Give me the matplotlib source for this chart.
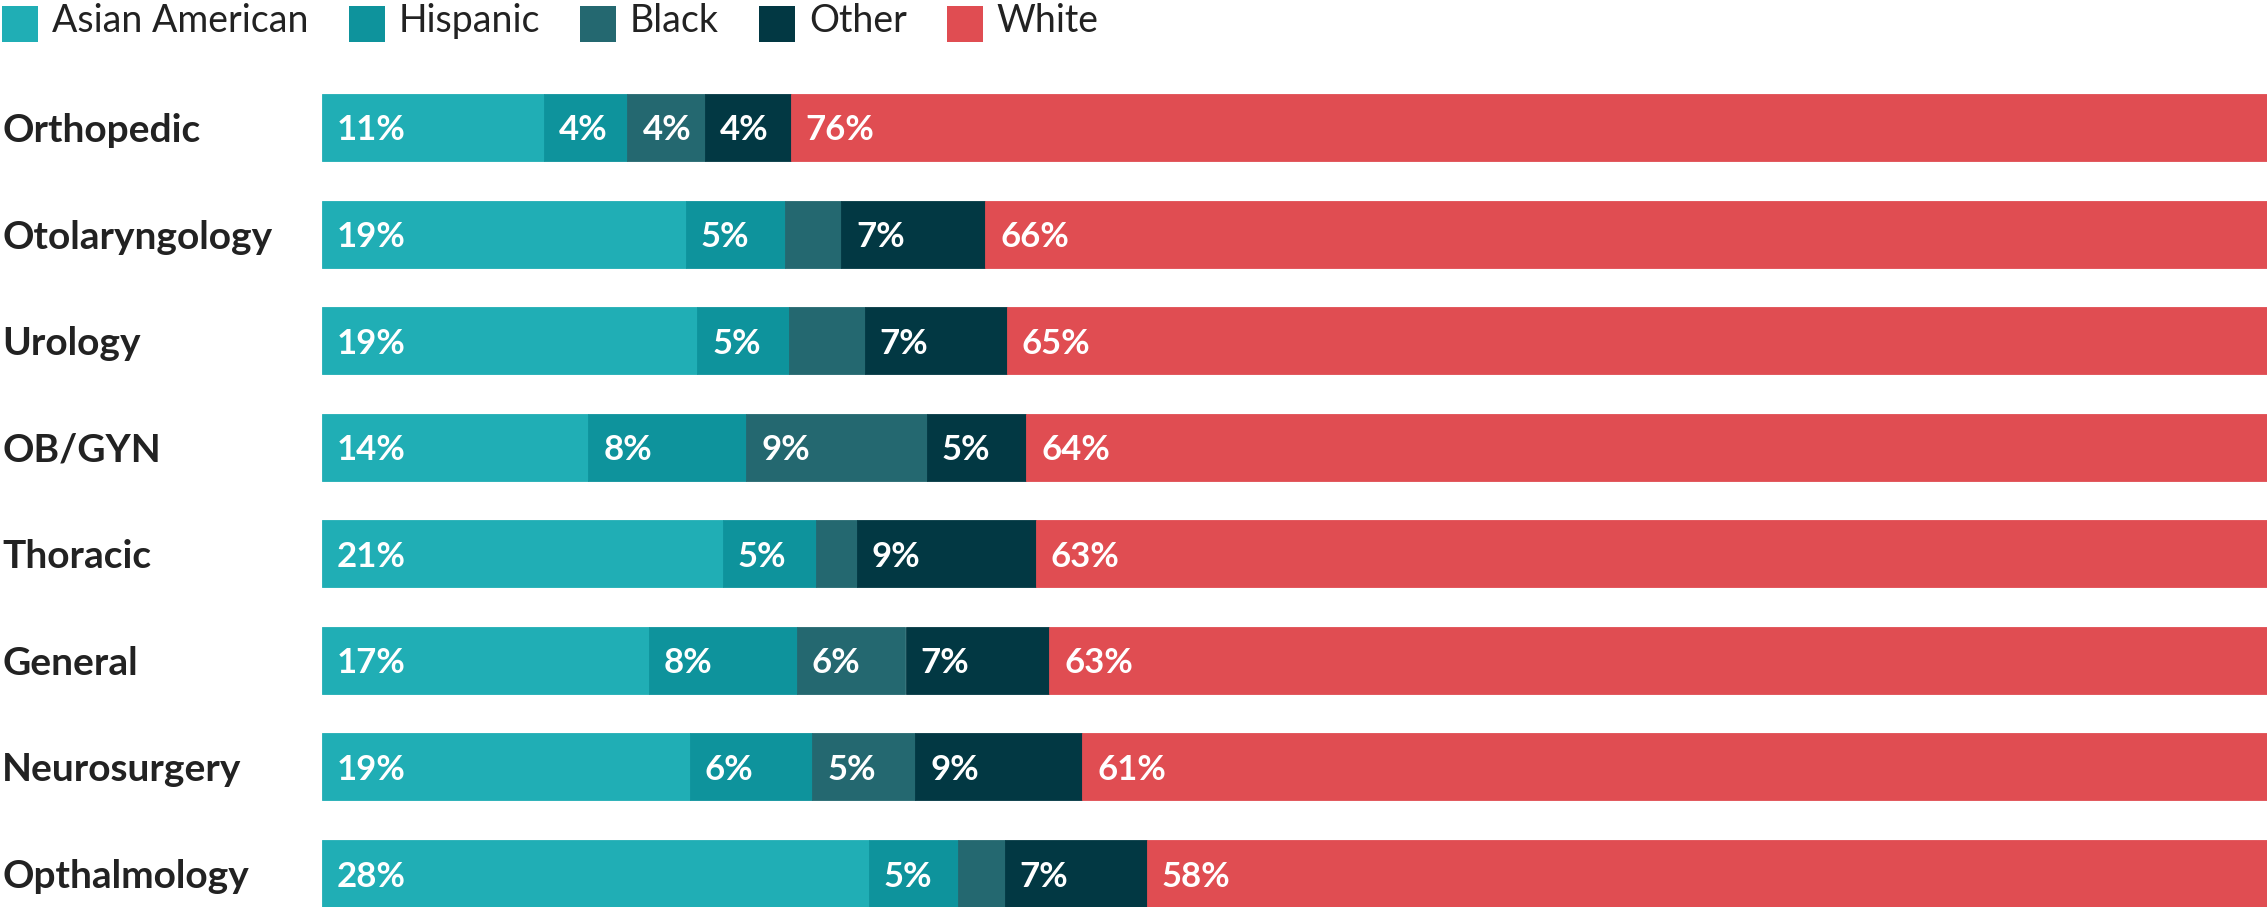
import matplotlib
matplotlib.use("Agg")
import matplotlib.pyplot as plt
from matplotlib.patches import Rectangle
from matplotlib.transforms import blended_transform_factory, offset_copy

plt.rcParams["font.family"] = ["Lato", "DejaVu Sans"]

# Share of surgeons by race/ethnicity within each specialty (percent)
specialties = ["Orthopedic", "Otolaryngology", "Urology", "OB/GYN",
               "Thoracic", "General", "Neurosurgery", "Opthalmology"]
groups = ["Asian American", "Hispanic", "Black", "Other", "White"]
asian_american = [11.4, 18.7, 19.3, 13.7, 20.6, 16.8, 18.9, 28.1]
hispanic = [4.3, 5.1, 4.7, 8.1, 4.8, 7.6, 6.3, 4.6]
black = [4.0, 2.9, 3.9, 9.3, 2.1, 5.6, 5.3, 2.4]
other = [4.4, 7.4, 7.3, 5.1, 9.2, 7.4, 8.6, 7.3]
white = [75.9, 65.9, 64.8, 63.8, 63.3, 62.6, 60.9, 57.6]
series = [asian_american, hispanic, black, other, white]

colors = ["#20AEB5", "#0E939C", "#246870", "#023843", "#E04D52"]
text_dark = "#222222"
min_labelled = 4.0

W, H, DPI = 2267, 907, 100
fig = plt.figure(figsize=(W / DPI, H / DPI), dpi=DPI)
fig.patch.set_facecolor("white")

bar_h = 0.6285
left_px, top_px = 322, 94
ax = fig.add_axes([left_px / W, 0, 1 - left_px / W, (H - top_px) / H])
ax.set_xlim(0, 100)
ax.set_ylim(len(specialties) - 1 + bar_h / 2, -bar_h / 2)
ax.axis("off")

ypos = list(range(len(specialties)))
label_tf = offset_copy(ax.transData, fig=fig, x=15, y=-3, units="dots")
starts = [0.0] * len(specialties)
for vals, col in zip(series, colors):
    # thin same-colour edge closes antialiasing seams between segments
    ax.barh(ypos, vals, left=starts, height=bar_h, color=col,
            edgecolor=col, linewidth=0.6)
    for i, v in enumerate(vals):
        if v >= min_labelled:
            ax.text(starts[i], ypos[i], f"{v:.0f}%", transform=label_tf,
                    ha="left", va="center", color="white",
                    fontsize=25, fontweight="bold", zorder=5)
    starts = [s + v for s, v in zip(starts, vals)]

# Category names at the far left
cat_tf = offset_copy(blended_transform_factory(fig.transFigure, ax.transData),
                     fig=fig, x=0, y=-3, units="dots")
for i, name in enumerate(specialties):
    fig.text(2 / W, ypos[i], name, transform=cat_tf, ha="left", va="center",
             color=text_dark, fontsize=28, fontweight="bold")

# Legend row across the top
renderer = fig.canvas.get_renderer()
sq = 36
x = 2
for name, col in zip(groups, colors):
    fig.patches.append(Rectangle((x / W, (H - 6 - sq) / H), sq / W, sq / H,
                                 transform=fig.transFigure, facecolor=col,
                                 edgecolor="none"))
    t = fig.text((x + sq + 14) / W, (H - 32) / H, name, ha="left",
                 va="baseline", color=text_dark, fontsize=27)
    bb = t.get_window_extent(renderer=renderer)
    x = bb.x1 + 40

fig.savefig("out.png", dpi=DPI, facecolor="white")
